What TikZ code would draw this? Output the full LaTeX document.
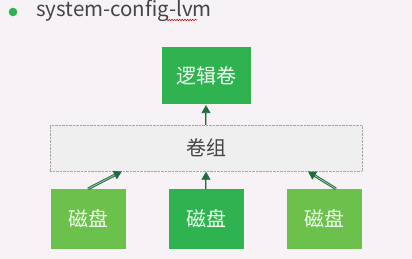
\documentclass[tikz,border=0pt]{standalone}
\usepackage{fontspec}
\newfontfamily\cjk{Noto Sans CJK SC}
\usepackage {tikz}
\usetikzlibrary {positioning}
\usetikzlibrary{calc}
\usetikzlibrary{arrows.meta}
\usetikzlibrary{decorations.pathmorphing}
\definecolor{pagebg}{HTML}{F6F2F5}
\definecolor{lvgreen}{HTML}{2FB350}
\definecolor{pvgreen}{HTML}{6CC04C}
\definecolor{linkgreen}{HTML}{1D6E3C}
\definecolor{vgfill}{HTML}{F0EFF0}
\definecolor{textgray}{HTML}{454545}
\tikzset{
	cjkfont/.style = {font=\cjk\fontsize{20}{24}\selectfont},
    lvbox/.style = {rectangle,fill=lvgreen,text=white!95!green,cjkfont,minimum width=89pt,minimum height=57pt},
    vgbox/.style = {rectangle,draw=gray!70,densely dotted,fill=vgfill,text=textgray,cjkfont,minimum width=312pt,minimum height=46pt},
    pvbox/.style = {rectangle,fill=pvgreen,text=white!95!green,cjkfont,minimum width=75pt,minimum height=60pt},
    link/.style = {-{Triangle[length=8pt,width=9pt]},draw=linkgreen,double=linkgreen!45!white,double distance=0.9pt,line width=0.9pt,shorten >=0.5pt}}

\begin{document}
\begin{tikzpicture}[x=1pt,y=-1pt,auto ,node distance =72pt and 118pt ,on grid]
    \useasboundingbox[fill=pagebg] (0,0) rectangle (412,259);
    % heading line
    \fill[lvgreen] (13,12) circle (4.3pt);
    \node (title) [anchor=base west,inner sep=0pt,text=textgray,font=\cjk\fontsize{20.5}{24}\selectfont] at (36,17) {system-config-lvm};
    \draw[red!80!black,line width=0.5pt,decorate,decoration={snake,amplitude=0.8pt,segment length=2.6pt}] (166,20) -- (197,20);
    % volume group and its neighbours
    \node (vg) [vgbox] at (206,148) {卷组};
    \node (lv) [lvbox,above = of vg] {逻辑卷};
    \node (pvb) [pvbox,below = 71pt of vg,fill=lvgreen] {磁盘};
    \node (pva) [pvbox,left = of pvb] {磁盘};
    \node (pvc) [pvbox,right = of pvb] {磁盘};
    \draw[link] (vg) -- (lv);
    \draw[link] (pva.north) -- ($(vg.south west)!.232!(vg.south east)$);
    \draw[link] (pvb) -- (vg);
    \draw[link] ($(pvc.north)+(12,0)$) -- ($(vg.south west)!.825!(vg.south east)$);
    \end{tikzpicture}
\end{document}
